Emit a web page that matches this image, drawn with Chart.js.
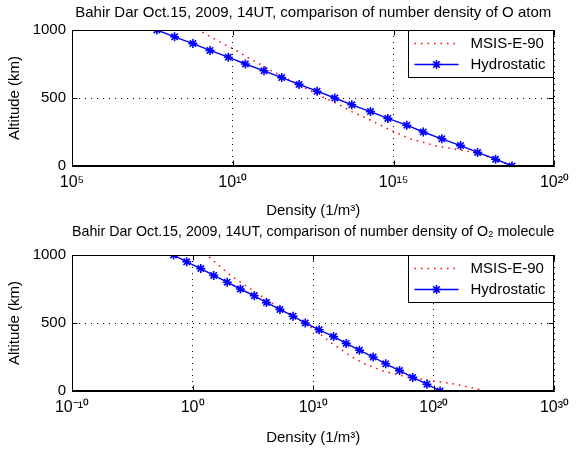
<!DOCTYPE html>
<html>
<head>
<meta charset="utf-8">
<script src="https://cdn.jsdelivr.net/npm/chart.js@4.4.1/dist/chart.umd.min.js"></script>
<style>
  html, body { margin: 0; padding: 0; background: #fff; }
  #wrap { position: relative; width: 576px; height: 449px; }
  canvas { position: absolute; left: 0; }
</style>
</head>
<body>
<div id="wrap">
  <canvas id="chartO" width="576" height="220" style="top:0"></canvas>
  <canvas id="chartO2" width="576" height="229" style="top:220px"></canvas>
</div>
<script>
// altitude levels (km), shared by all curves
const altitude = [0, 50, 100, 150, 200, 250, 300, 350, 400, 450, 500,
                  550, 600, 650, 700, 750, 800, 850, 900, 950, 1000];

// O atom, log10 of density (1/m^3)
const oHydro = [18.68, 18.17, 17.61, 17.08, 16.50, 15.92, 15.41, 14.82, 14.28, 13.70, 13.17,
                12.62, 12.06, 11.52, 10.97, 10.39, 9.86, 9.29, 8.76, 8.19, 7.64];
const oMsis  = [18.68, 18.17, 17.50, 16.29, 15.52, 15.03, 14.59, 14.17, 13.70, 13.32, 12.86,
                12.44, 12.03, 11.62, 11.21, 10.83, 10.45, 10.10, 9.69, 9.31, 8.94];

// O2 molecule, log10 of density (1/m^3)
const o2Hydro = [20.52, 19.43, 18.25, 17.16, 16.01, 14.97, 13.83, 12.73, 11.69, 10.49, 9.34,
                 8.33, 7.24, 6.12, 5.11, 3.96, 2.87, 1.75, 0.68, -0.49, -1.58];
const o2Msis  = [24.3, 21.8, 17.9, 15.7, 14.24, 13.2, 12.4, 11.55, 10.85, 10.1, 9.25,
                 8.35, 7.35, 6.5, 5.68, 4.84, 3.97, 3.16, 2.46, 1.83, 1.2];

// axis ticks
const yTicks = [0, 500, 1000];
const oTickValues = [1e5, 1e10, 1e15, 1e20];
const oTickLabels = ['10\u2075', '10\u00b9\u2070', '10\u00b9\u2075', '10\u00b2\u2070'];
const o2TickValues = [1e-10, 1e0, 1e10, 1e20, 1e30];
const o2TickLabels = ['10\u207b\u00b9\u2070', '10\u2070', '10\u00b9\u2070', '10\u00b2\u2070', '10\u00b3\u2070'];

const seriesNames = ['MSIS-E-90', 'Hydrostatic'];

Chart.defaults.font.family = '"Liberation Sans", Arial, sans-serif';
Chart.defaults.font.size = 15;
Chart.defaults.color = '#000';

function toPoints(exps) {
  return exps.map((e, i) => ({ x: Math.pow(10, e), y: altitude[i] }));
}

// box around the axes, inward ticks and the legend in the top right corner
const boxPlugin = {
  id: 'box',
  afterDatasetsDraw(chart) {
    const { ctx, chartArea: a, scales } = chart;
    const L = Math.round(a.left) + 0.5, R = Math.round(a.right) - 0.5;
    const T = Math.round(a.top) + 0.5, B = Math.round(a.bottom) - 0.5;
    ctx.save();
    ctx.strokeStyle = '#000';
    ctx.lineWidth = 1;
    ctx.setLineDash([]);
    ctx.strokeRect(L, T, R - L, B - T);
    ctx.beginPath();
    scales.x.ticks.forEach(t => {
      const px = Math.round(scales.x.getPixelForValue(t.value)) + 0.5;
      ctx.moveTo(px, B); ctx.lineTo(px, B - 5);
      ctx.moveTo(px, T); ctx.lineTo(px, T + 5);
    });
    scales.y.ticks.forEach(t => {
      const py = Math.round(scales.y.getPixelForValue(t.value)) + 0.5;
      ctx.moveTo(L, py); ctx.lineTo(L + 5, py);
      ctx.moveTo(R, py); ctx.lineTo(R - 5, py);
    });
    ctx.stroke();

    // legend
    const w = 145, h = 47;
    const lx = R - w, ly = T;
    ctx.fillStyle = '#fff';
    ctx.fillRect(lx, ly, w, h);
    ctx.strokeRect(lx, ly, w, h);
    const sets = chart.data.datasets;
    const rows = [ly + 12.5, ly + 33];
    rows.forEach((ry, i) => {
      const ds = sets[i];
      const y = Math.round(ry) + 0.5;
      ctx.save();
      ctx.strokeStyle = ds.borderColor;
      ctx.lineWidth = ds.borderWidth;
      ctx.setLineDash(ds.borderDash || []);
      ctx.beginPath();
      ctx.moveTo(lx + 6, y);
      ctx.lineTo(lx + 50, y);
      ctx.stroke();
      ctx.restore();
      if (ds.pointRadius > 0) {
        ctx.save();
        ctx.strokeStyle = ds.pointBorderColor;
        ctx.fillStyle = ds.pointBorderColor;
        ctx.lineWidth = ds.pointBorderWidth;
        Chart.helpers.drawPoint(ctx, { pointStyle: ds.pointStyle, radius: ds.pointRadius, borderWidth: ds.pointBorderWidth }, lx + 28, y);
        ctx.restore();
      }
      ctx.fillStyle = '#000';
      ctx.font = '15px "Liberation Sans", Arial, sans-serif';
      ctx.textBaseline = 'middle';
      ctx.textAlign = 'left';
      ctx.fillText(ds.label, lx + 62, ry + 1);
    });
    ctx.restore();
  }
};

function makeChart(id, opts) {
  return new Chart(document.getElementById(id), {
    type: 'line',
    data: {
      datasets: [
        {
          label: seriesNames[0],
          data: toPoints(opts.msis),
          borderColor: '#ff0000',
          borderWidth: 1.5,
          borderDash: [1.5, 5],
          pointRadius: 0,
          tension: 0,
          order: 1
        },
        {
          label: seriesNames[1],
          data: toPoints(opts.hydro),
          borderColor: '#0000ff',
          borderWidth: 1.4,
          pointStyle: 'star',
          pointRadius: 4.5,
          pointBorderWidth: 1.6,
          pointBorderColor: '#0000ff',
          pointBackgroundColor: '#0000ff',
          tension: 0,
          order: 0
        }
      ]
    },
    options: {
      responsive: false,
      animation: false,
      devicePixelRatio: 1,
      layout: { padding: { left: 0, right: 14, top: 0, bottom: 0 } },
      plugins: {
        legend: { display: false },
        tooltip: { enabled: false },
        title: {
          display: true,
          text: opts.title,
          fullSize: false,
          color: '#000',
          font: { size: 15, weight: 'normal' },
          padding: opts.titlePad
        }
      },
      scales: {
        x: {
          type: 'logarithmic',
          min: opts.tickValues[0],
          max: opts.tickValues[opts.tickValues.length - 1],
          afterBuildTicks: s => { s.ticks = opts.tickValues.map(v => ({ value: v })); },
          afterFit: s => { s.height = opts.xAxisHeight; },
          ticks: {
            autoSkip: false,
            maxRotation: 0,
            padding: 7,
            font: { size: 16 },
            callback: (v, i) => opts.tickLabels[i]
          },
          grid: { color: '#000', lineWidth: 1, drawTicks: false },
          border: { color: '#000', width: 1, dash: [1, 5] },
          title: {
            display: true,
            text: 'Density (1/m\u00b3)',
            color: '#000',
            padding: opts.xTitlePad
          }
        },
        y: {
          type: 'linear',
          min: 0,
          max: 1000,
          afterBuildTicks: s => { s.ticks = yTicks.map(v => ({ value: v })); },
          afterFit: s => { s.width = 72; },
          ticks: { padding: 6, callback: v => String(v) },
          grid: { color: '#000', lineWidth: 1, drawTicks: false },
          border: { color: '#000', width: 1, dash: [1, 5] },
          title: {
            display: true,
            text: 'Altitude (km)',
            color: '#000',
            padding: { top: 6, bottom: 0 }
          }
        }
      }
    },
    plugins: [boxPlugin]
  });
}

makeChart('chartO', {
  title: 'Bahir Dar Oct.15, 2009, 14UT, comparison of number density of O atom',
  titlePad: { top: 4, bottom: 8 },
  msis: oMsis,
  hydro: oHydro,
  tickValues: oTickValues,
  tickLabels: oTickLabels,
  xAxisHeight: 54,
  xTitlePad: { top: 10, bottom: 0 }
});

makeChart('chartO2', {
  title: 'Bahir Dar Oct.15, 2009, 14UT, comparison of number density of O\u2082 molecule',
  titlePad: { top: 3, bottom: 14 },
  msis: o2Msis,
  hydro: o2Hydro,
  tickValues: o2TickValues,
  tickLabels: o2TickLabels,
  xAxisHeight: 58,
  xTitlePad: { top: 12, bottom: 2 }
});
</script>
</body>
</html>
